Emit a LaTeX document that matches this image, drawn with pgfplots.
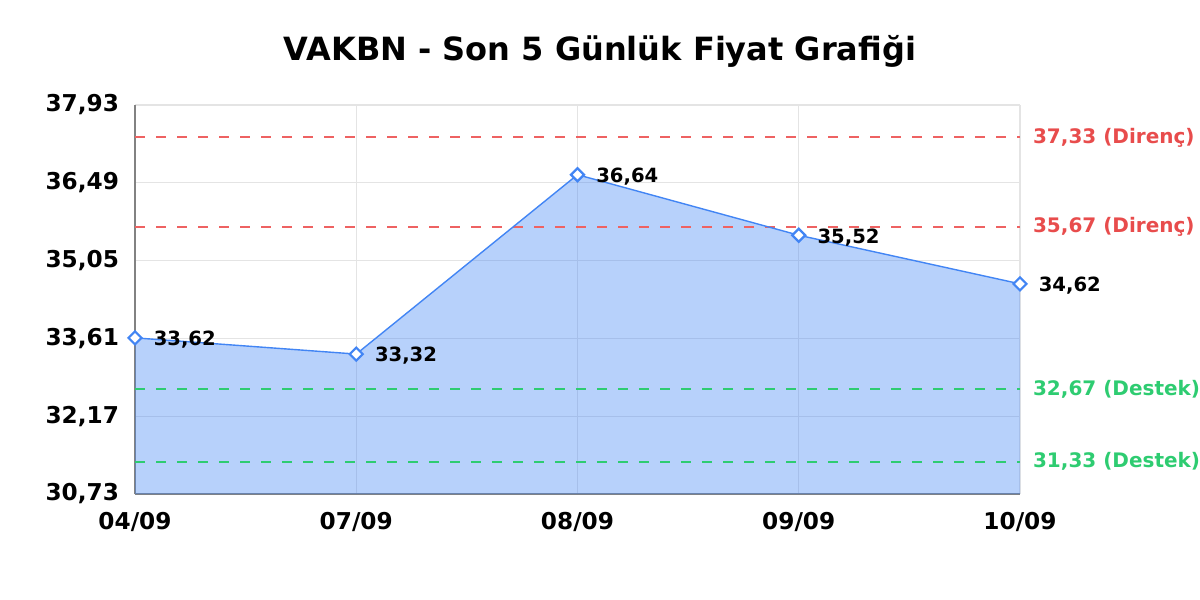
\documentclass[border=0pt]{standalone}
\usepackage{pgfplots}
\pgfplotsset{compat=1.18}
\usepackage{fontspec}
\setmainfont{DejaVu Sans}

\definecolor{areafill}{RGB}{66,133,244}
\definecolor{lineblue}{RGB}{66,133,244}
\definecolor{resred}{RGB}{232,76,76}
\definecolor{resline}{RGB}{238,98,98}
\definecolor{supgreen}{RGB}{46,204,113}
\definecolor{gridgray}{RGB}{228,228,228}
\definecolor{axisgray}{RGB}{130,130,130}

\pgfkeys{/pgf/number format/fixed, /pgf/number format/fixed zerofill,
    /pgf/number format/precision=2, /pgf/number format/use comma,
    /pgf/number format/assume math mode=true}

\begin{document}
\begin{tikzpicture}
\useasboundingbox (0,0) rectangle (600pt,300pt);
\node[font=\bfseries\fontsize{16}{19}\selectfont] at (300pt,274.5pt) {VAKBN - Son 5 Günlük Fiyat Grafiği};
\begin{axis}[
    at={(67.5pt,53pt)}, anchor=south west,
    scale only axis,
    width=442.5pt, height=194.5pt,
    xmin=0, xmax=4,
    ymin=30.73, ymax=37.93,
    xtick={0,1,2,3,4},
    xticklabels={04/09,07/09,08/09,09/09,10/09},
    ytick={30.73,32.17,33.61,35.05,36.49,37.93},
    ticklabel style={font=\bfseries\fontsize{11.6}{13}\selectfont},
    xticklabel style={yshift=-5.5pt},
    yticklabel style={xshift=-4.5pt},
    major tick length=0pt,
    axis x line*=bottom, axis y line*=left,
    axis line style={axisgray, line width=0.6pt, -},
    grid=major,
    major grid style={gridgray, line width=0.6pt},
    clip=false,
]
% area
\addplot[draw=none, fill=areafill, fill opacity=0.38] coordinates {
(0,33.62) (1,33.32) (2,36.64) (3,35.52) (4,34.62)
} \closedcycle;

% resistance and support
\addplot[draw=resline, line width=1pt, dash pattern=on 5pt off 5.5pt] coordinates {(0,37.33) (4,37.33)};
\addplot[draw=resline, line width=1pt, dash pattern=on 5pt off 5.5pt] coordinates {(0,35.67) (4,35.67)};
\addplot[draw=supgreen, line width=1pt, dash pattern=on 5pt off 5.5pt] coordinates {(0,32.67) (4,32.67)};
\addplot[draw=supgreen, line width=1pt, dash pattern=on 5pt off 5.5pt] coordinates {(0,31.33) (4,31.33)};

% price line
\addplot[lineblue, line width=0.7pt, mark=square*, mark size=2.3pt,
    mark options={fill=white, draw=lineblue, line width=1.1pt, rotate=45},
    nodes near coords,
    point meta=y,
    every node near coord/.append style={anchor=west, xshift=5.5pt, yshift=-1pt, text=black,
        font=\bfseries\fontsize{9.8}{11}\selectfont},
] coordinates {
(0,33.62) (1,33.32) (2,36.64) (3,35.52) (4,34.62)
};

\node[anchor=west, text=resred, font=\bfseries\fontsize{10}{12}\selectfont] at (axis cs:4,37.33) [xshift=3pt] {37,33 (Direnç)};
\node[anchor=west, text=resred, font=\bfseries\fontsize{10}{12}\selectfont] at (axis cs:4,35.67) [xshift=3pt] {35,67 (Direnç)};
\node[anchor=west, text=supgreen, font=\bfseries\fontsize{10}{12}\selectfont] at (axis cs:4,32.67) [xshift=3pt] {32,67 (Destek)};
\node[anchor=west, text=supgreen, font=\bfseries\fontsize{10}{12}\selectfont] at (axis cs:4,31.33) [xshift=3pt] {31,33 (Destek)};
\end{axis}
\end{tikzpicture}
\end{document}
